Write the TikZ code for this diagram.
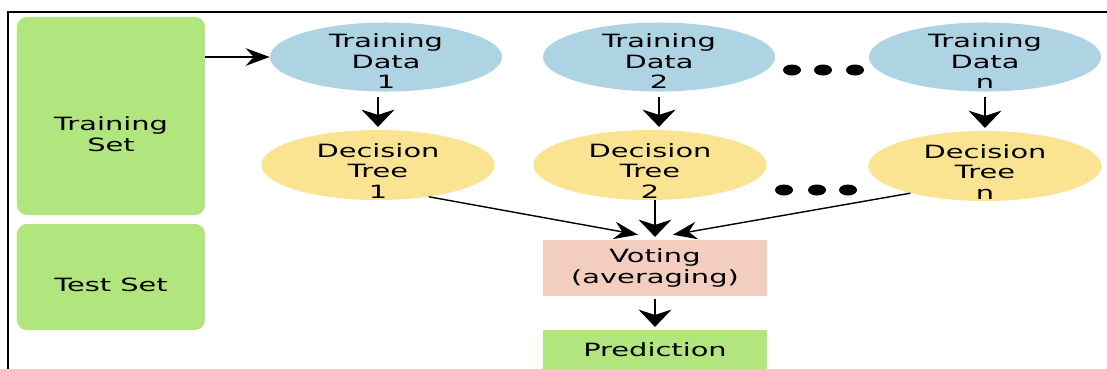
\documentclass[tikz,border=0pt]{standalone}
\usepackage{fontspec}
\newfontfamily\diagfont[FakeStretch=1.58]{DejaVu Sans}
\usetikzlibrary{calc}
\usetikzlibrary{shapes.geometric}
\usetikzlibrary{arrows.meta}
\definecolor[named]{SetGreen}{RGB}{177,229,126}
\definecolor[named]{DataBlue}{RGB}{174,211,227}
\definecolor[named]{TreeYellow}{RGB}{250,228,146}
\definecolor[named]{VotePeach}{RGB}{243,206,190}
\newcommand{\diagtext}{\diagfont\fontsize{13}{14.6}\selectfont}
\tikzset{
  lbl/.style={font=\diagtext,align=center,inner sep=0pt},
  setbox/.style={rectangle,fill=SetGreen,rounded corners=0.25cm,
    minimum width=4.7cm},
  data/.style={ellipse,fill=DataBlue,
    minimum width=5.8cm,minimum height=1.725cm,
    label={[lbl,yshift=-0.11cm]center:{#1}}},
  tree/.style={ellipse,fill=TreeYellow,
    minimum width=5.83cm,minimum height=1.75cm,
    label={[lbl,yshift=-0.15cm]center:{#1}}},
  flatbox/.style={lbl,rectangle,minimum width=5.6cm},
  feed/.style={line width=1pt,
    -{Stealth[length=0.6cm,width=0.44cm,inset=0.2cm]}},
  flow/.style={line width=2.1pt,
    -{Stealth[length=0.43cm,width=0.82cm,inset=0.13cm]}},
}

\begin{document}
\begin{tikzpicture}[x=0.025cm,y=-0.025cm]
  \path[use as bounding box] (0,0) rectangle (1107,369);
  \clip (0,0) rectangle (1107,369);

  % frame {{{
  \draw[line width=1.9pt] (8,380) |- (1120,12);
  % }}}

  % sets {{{
  \node[setbox,minimum height=4.95cm] (trainset) at (111,116) {};
  \node[lbl] (trainlbl) at (111,134) {Training\\Set};
  \node[setbox,minimum height=2.65cm] (testset) at (111,277) {};
  \node[lbl] (testlbl) at (111,285) {Test Set};
  % }}}

  % training data and trees {{{
  \node[data={Training\\Data\\1}] (td1) at (386,57) {};
  \node[data={Training\\Data\\2}] (td2) at (659,57) {};
  \node[data={Training\\Data\\n}] (tdn) at (985,57) {};

  \node[tree={Decision\\Tree\\1}] (dt1) at (378,165) {};
  \node[tree={Decision\\Tree\\2}] (dt2) at (650,165) {};
  \node[tree={Decision\\Tree\\n}] (dtn) at (985,166) {};

  \fill (792,70) ellipse (9 and 5.5);
  \fill (823,70) ellipse (9 and 5.5);
  \fill (855,70) ellipse (9 and 5.5);
  \fill (784,190) ellipse (9 and 5.5);
  \fill (817,190) ellipse (9 and 5.5);
  \fill (848,190) ellipse (9 and 5.5);
  % }}}

  % voting {{{
  \node[flatbox,fill=VotePeach,minimum height=1.4cm] (vote) at (655,268)
    {Voting\\(averaging)};
  \node[flatbox,fill=SetGreen,minimum height=1cm] (pred) at (655,350)
    {Prediction};
  \coordinate (vl) at ($(vote.north)+(-17,-5)$);
  \coordinate (vr) at ($(vote.north)+(18,-5)$);
  % }}}

  % arrows {{{
  \draw[feed] (trainset.east |- td1.west) -- (td1.west);
  \draw[flow,shorten <=4pt,shorten >=2pt] (dt1.north |- td1.south) -- (dt1.north);
  \draw[flow,shorten <=4pt,shorten >=2pt] (td2.south) -- (td2.south |- dt2.north);
  \draw[flow,shorten <=4pt,shorten >=2pt] (tdn.south) -- (dtn.north);
  \draw[feed] (dt1.-32) -- (vl);
  \draw[feed] (dtn.200) -- (vr);
  \draw[flow,shorten >=2pt] (dt2.south -| vote.north) -- (vote.north);
  \draw[flow,shorten <=2pt,shorten >=2pt] (vote.south) -- (pred.north);
  % }}}
\end{tikzpicture}
\end{document}
